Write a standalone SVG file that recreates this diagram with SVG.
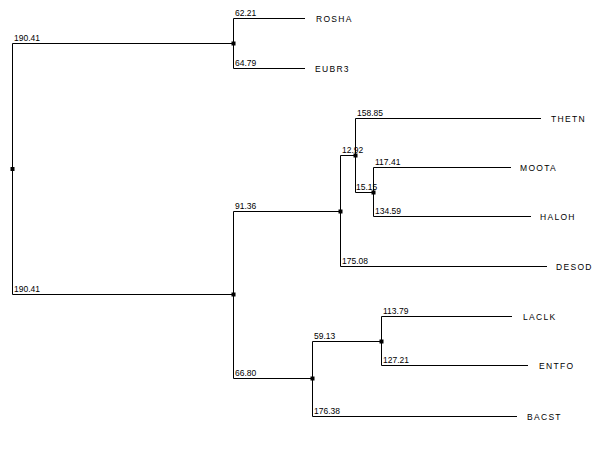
<svg xmlns="http://www.w3.org/2000/svg" width="607" height="460" viewBox="0 0 607 460">
<style>
.e{fill:none;stroke:#000;stroke-width:1}
.n{fill:#000}
.b{font-family:"Liberation Sans",Arial,sans-serif;font-size:8.5px;fill:#000}
.l{font-family:"Liberation Sans",Arial,sans-serif;font-size:8.5px;letter-spacing:1.3px;fill:#000;dominant-baseline:central}
</style>
<rect width="607" height="460" fill="#fff"/>
<g id="connectors">
<path class="e" d="M12.5,169 V43.5 H233.5"/>
<path class="e" d="M12.5,169 V294.5 H233.5"/>
<path class="e" d="M233.5,43.5 V18.5 H305"/>
<path class="e" d="M233.5,43.5 V68.5 H305"/>
<path class="e" d="M233.5,294.5 V211.5 H340.5"/>
<path class="e" d="M233.5,294.5 V378.5 H312.5"/>
<path class="e" d="M340.5,211.5 V155.5 H355.5"/>
<path class="e" d="M340.5,211.5 V266.5 H547"/>
<path class="e" d="M355.5,155.5 V118.5 H541"/>
<path class="e" d="M355.5,155.5 V192.5 H373.5"/>
<path class="e" d="M373.5,192.5 V167.5 H511"/>
<path class="e" d="M373.5,192.5 V216.5 H531"/>
<path class="e" d="M312.5,378.5 V341.5 H381.5"/>
<path class="e" d="M312.5,378.5 V416.5 H517"/>
<path class="e" d="M381.5,341.5 V316.5 H512"/>
<path class="e" d="M381.5,341.5 V365.5 H528"/>
<text class="b" x="14" y="41">190.41</text>
<text class="b" x="14" y="292">190.41</text>
<text class="b" x="235" y="16">62.21</text>
<text class="b" x="235" y="66">64.79</text>
<text class="b" x="235" y="209">91.36</text>
<text class="b" x="235" y="376">66.80</text>
<text class="b" x="342" y="153">12.92</text>
<text class="b" x="342" y="264">175.08</text>
<text class="b" x="357" y="116">158.85</text>
<text class="b" x="356" y="190">15.15</text>
<text class="b" x="375" y="165">117.41</text>
<text class="b" x="375" y="214">134.59</text>
<text class="b" x="314" y="339">59.13</text>
<text class="b" x="314" y="414">176.38</text>
<text class="b" x="383" y="314">113.79</text>
<text class="b" x="383" y="363">127.21</text>
</g>
<g id="root"><rect class="n" x="10.5" y="167" width="4" height="4"/></g>
<g id="n1"><rect class="n" x="231.5" y="41.5" width="4" height="4"/></g>
<g id="n2"><rect class="n" x="231.5" y="292.5" width="4" height="4"/></g>
<g id="n3"><rect class="n" x="338.5" y="209.5" width="4" height="4"/></g>
<g id="n4"><rect class="n" x="353.5" y="153.5" width="4" height="4"/></g>
<g id="n5"><rect class="n" x="371.5" y="190.5" width="4" height="4"/></g>
<g id="n6"><rect class="n" x="310.5" y="376.5" width="4" height="4"/></g>
<g id="n7"><rect class="n" x="379.5" y="339.5" width="4" height="4"/></g>
<g id="ROSHA"><text class="l" x="316" y="18.5">ROSHA</text></g>
<g id="EUBR3"><text class="l" x="315" y="68.5">EUBR3</text></g>
<g id="THETN"><text class="l" x="551" y="118.5">THETN</text></g>
<g id="MOOTA"><text class="l" x="520" y="167.5">MOOTA</text></g>
<g id="HALOH"><text class="l" x="540" y="216.5">HALOH</text></g>
<g id="DESOD"><text class="l" x="556" y="266.5">DESOD</text></g>
<g id="LACLK"><text class="l" x="523" y="316.5">LACLK</text></g>
<g id="ENTFO"><text class="l" x="539" y="365.5">ENTFO</text></g>
<g id="BACST"><text class="l" x="527" y="416.5">BACST</text></g>
</svg>
